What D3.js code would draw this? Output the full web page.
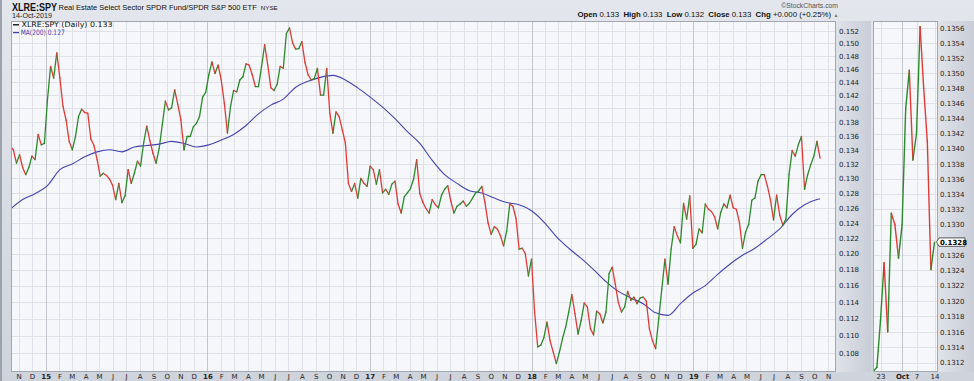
<!DOCTYPE html>
<html><head><meta charset="utf-8">
<script src="https://cdn.jsdelivr.net/npm/d3@7"></script>
<style>body{margin:0;background:#d9dce4;} svg{display:block}</style>
</head><body><svg id="c" width="974" height="381"></svg>
<script>
// ---------- DATA ----------
const mainEndDate = "2019-10-14";           // last weekly sample (daily chart sampled weekly)
const mainCloses = [
0.1345,0.1340,0.1321,0.1333,0.1315,0.1305,0.1315,0.1331,0.1326,0.1362,
0.1347,0.1349,0.1413,0.1464,0.1446,0.1485,0.1446,0.1403,0.1383,0.1352,
0.1340,0.1358,0.1388,0.1399,0.1394,0.1393,0.1355,0.1346,0.1326,0.1303,
0.1307,0.1304,0.1299,0.1290,0.1271,0.1293,0.1267,0.1276,0.1312,0.1293,
0.1307,0.1324,0.1317,0.1350,0.1374,0.1353,0.1335,0.1321,0.1342,0.1376,
0.1411,0.1398,0.1401,0.1428,0.1406,0.1383,0.1340,0.1359,0.1359,0.1373,
0.1378,0.1388,0.1417,0.1424,0.1451,0.1471,0.1453,0.1466,0.1443,0.1408,
0.1364,0.1403,0.1427,0.1425,0.1443,0.1448,0.1468,0.1466,0.1451,0.1433,
0.1433,0.1464,0.1498,0.1466,0.1431,0.1427,0.1436,0.1464,0.1461,0.1516,
0.1525,0.1501,0.1491,0.1492,0.1503,0.1470,0.1451,0.1443,0.1445,0.1461,
0.1420,0.1420,0.1461,0.1393,0.1364,0.1395,0.1388,0.1369,0.1350,0.1293,
0.1282,0.1293,0.1273,0.1300,0.1293,0.1289,0.1317,0.1312,0.1292,0.1312,
0.1280,0.1285,0.1278,0.1292,0.1296,0.1265,0.1253,0.1275,0.1280,0.1286,
0.1299,0.1326,0.1279,0.1267,0.1259,0.1253,0.1271,0.1264,0.1260,0.1277,
0.1285,0.1290,0.1269,0.1253,0.1262,0.1265,0.1269,0.1262,0.1266,0.1273,
0.1280,0.1283,0.1289,0.1267,0.1240,0.1225,0.1235,0.1232,0.1223,0.1210,
0.1229,0.1265,0.1262,0.1246,0.1206,0.1207,0.1200,0.1172,0.1193,0.1128,
0.1087,0.1089,0.1098,0.1116,0.1094,0.1081,0.1068,0.1081,0.1097,0.1110,
0.1128,0.1149,0.1126,0.1102,0.1118,0.1139,0.1134,0.1108,0.1101,0.1129,
0.1126,0.1115,0.1128,0.1175,0.1183,0.1162,0.1139,0.1128,0.1134,0.1153,
0.1142,0.1146,0.1138,0.1145,0.1146,0.1141,0.1108,0.1094,0.1085,0.1120,
0.1156,0.1193,0.1162,0.1206,0.1235,0.1223,0.1214,0.1266,0.1245,0.1276,
0.1207,0.1212,0.1232,0.1227,0.1265,0.1258,0.1255,0.1248,0.1232,0.1254,
0.1265,0.1260,0.1277,0.1260,0.1258,0.1241,0.1207,0.1228,0.1238,0.1270,
0.1273,0.1296,0.1305,0.1305,0.1290,0.1271,0.1244,0.1277,0.1250,0.1237,
0.1245,0.1305,0.1339,0.1331,0.1347,0.1359,0.1285,0.1305,0.1319,0.1331,
0.1352,0.1328
];
// MA(200) read every 4 weeks (plus the final value)
const maValues = [
0.1258,0.1271,0.1279,0.1290,0.1312,0.1320,0.1330,0.1337,0.1340,0.1337,
0.1344,0.1346,0.1348,0.1352,0.1349,0.1344,0.1347,0.1354,0.1362,0.1375,
0.1392,0.1405,0.1414,0.1432,0.1441,0.1447,0.1450,0.1443,0.1431,0.1417,
0.1402,0.1385,0.1366,0.1349,0.1325,0.1305,0.1293,0.1283,0.1280,0.1273,
0.1267,0.1264,0.1256,0.1241,0.1222,0.1207,0.1194,0.1180,0.1165,0.1153,
0.1145,0.1138,0.1127,0.1124,0.1138,0.1151,0.1160,0.1174,0.1187,0.1198,
0.1207,0.1219,0.1232,0.1251,0.1264,0.1271,0.1272
];
const panelDates = ["2019-09-19","2019-09-20","2019-09-23","2019-09-24","2019-09-25","2019-09-26","2019-09-27","2019-09-30",
  "2019-10-01","2019-10-02","2019-10-03","2019-10-04","2019-10-07","2019-10-08","2019-10-09","2019-10-10","2019-10-11","2019-10-14"];
const panelCloses = [0.13109,0.13114,0.13175,0.1325,0.1316,0.13315,0.1330,0.13256,
  0.1330,0.13453,0.13504,0.13385,0.1342,0.13562,0.1348,0.1341,0.13241,0.13277];
const mainTicks = [0.108,0.110,0.112,0.114,0.116,0.118,0.120,0.122,0.124,0.126,0.128,0.130,
  0.132,0.134,0.136,0.138,0.140,0.142,0.144,0.146,0.148,0.150,0.152];
const panelTicks = [0.1312,0.1314,0.1316,0.1318,0.1320,0.1322,0.1324,0.1326,0.1328,0.1330,0.1332,
  0.1334,0.1336,0.1338,0.1340,0.1342,0.1344,0.1346,0.1348,0.1350,0.1352,0.1354,0.1356];
const monthLetters = ["J","F","M","A","M","J","J","A","S","O","N","D"];
const panelTickDates = ["2019-09-23","2019-10-01","2019-10-07","2019-10-14"];
const panelTickLabels = ["23","Oct","7","14"];
const ohlcLabels = ["Open","High","Low","Close","Chg"];
const ohlcValues = ["0.133","0.133","0.132","0.133","+0.000 (+0.25%)"];

// ---------- CHART ----------
const svg = d3.select("#c");
const parse = d3.timeParse("%Y-%m-%d");
const FONT = "'DejaVu Sans', Verdana, sans-serif";
const ARIAL = "'Liberation Sans', Arial, sans-serif";
const UP = "#2b8a2b", DOWN = "#e03a36", MAC = "#4444b0";

const defs = svg.append("defs");
const g1 = defs.append("linearGradient").attr("id","bg").attr("x1",0).attr("y1",0).attr("x2",0).attr("y2",1);
g1.append("stop").attr("offset","0").attr("stop-color","#e3e6ec");
g1.append("stop").attr("offset","1").attr("stop-color","#cfd3dc");
const g2 = defs.append("linearGradient").attr("id","ax").attr("x1",0).attr("y1",0).attr("x2",1).attr("y2",0);
g2.append("stop").attr("offset","0").attr("stop-color","#dfe2e9");
g2.append("stop").attr("offset","1").attr("stop-color","#c9cdd7");

svg.append("rect").attr("width",974).attr("height",381).attr("fill","url(#bg)");
svg.append("rect").attr("x",836).attr("y",21).attr("width",35).attr("height",351).attr("fill","url(#ax)");
svg.append("rect").attr("x",938).attr("y",21).attr("width",36).attr("height",351).attr("fill","url(#ax)");
svg.append("rect").attr("x",0).attr("y",0).attr("width",2).attr("height",381).attr("fill","#9ea2ad");

// main plot
const PL = 11, PR = 836, PT = 21, PB = 372;
const x = d3.scaleTime().domain([new Date(2015,0,1), new Date(2019,0,1)]).range([45.7, 693.3]);
const y = d3.scaleLog().domain([0.108, 0.152]).range([353, 31]);

defs.append("clipPath").attr("id","cm").append("rect").attr("x",PL).attr("y",PT).attr("width",PR-PL).attr("height",PB-PT);
svg.append("rect").attr("x",PL).attr("y",PT).attr("width",PR-PL).attr("height",PB-PT).attr("fill","#f6f7fb");

const grid = svg.append("g").attr("clip-path","url(#cm)");
grid.selectAll("line.h").data(mainTicks).join("line")
  .attr("x1",PL).attr("x2",PR).attr("y1",d=>Math.round(y(d))+0.5).attr("y2",d=>Math.round(y(d))+0.5)
  .attr("stroke","#e0e1e8").attr("stroke-width",1);
const months = d3.timeMonth.range(new Date(2014,10,1), new Date(2019,11,1));
grid.selectAll("line.v").data(months).join("line")
  .attr("x1",d=>Math.round(x(d))+0.5).attr("x2",d=>Math.round(x(d))+0.5).attr("y1",PT).attr("y2",PB)
  .attr("stroke",d=>d.getMonth()===0?"#c4c6ce":"#e0e1e8").attr("stroke-width",1);

// weekly dates ending at mainEndDate
const endD = parse(mainEndDate);
const N = mainCloses.length;
const mainPts = mainCloses.map((v,i)=>[d3.timeDay.offset(endD, -7*(N-1-i)), v]);
const maIdx = maValues.map((v,k)=> k < maValues.length-1 ? 4*k : N-1);
const maPts = maValues.map((v,k)=>[mainPts[maIdx[k]][0], v]);

const lineGen = d3.line().x(d=>x(d[0])).y(d=>y(d[1]));
const plotG = svg.append("g").attr("clip-path","url(#cm)");
plotG.append("path").datum(maPts).attr("d", lineGen.curve(d3.curveMonotoneX))
  .attr("fill","none").attr("stroke",MAC).attr("stroke-width",1.1);
const segLine = d3.line().x(d=>x(d[0])).y(d=>y(d[1]));
plotG.selectAll("path.seg").data(d3.pairs(mainPts)).join("path")
  .attr("d", d=>segLine(d)).attr("fill","none")
  .attr("stroke", d=> d[1][1] >= d[0][1] ? UP : DOWN).attr("stroke-width",1.3).attr("stroke-linecap","round");

svg.append("rect").attr("x",PL+0.5).attr("y",PT+0.5).attr("width",PR-PL-1).attr("height",PB-PT-1)
  .attr("fill","none").attr("stroke","#a3a7b2");

// axes
const xAxis = d3.axisBottom(x).tickValues(months).tickSize(0).tickPadding(2)
  .tickFormat(d => d.getMonth()===0 ? String(d.getFullYear()).slice(2) : monthLetters[d.getMonth()]);
const xa = svg.append("g").attr("transform",`translate(0,${PB})`).call(xAxis);
xa.select(".domain").remove();
xa.selectAll("text").attr("font-family",FONT).attr("font-size",7).attr("fill","#222")
  .attr("font-weight",d=>d.getMonth()===0?"bold":"normal");

const yAxis = d3.axisRight(y).tickValues(mainTicks).tickFormat(d3.format(".3f")).tickSize(0).tickPadding(3);
const ya = svg.append("g").attr("transform",`translate(${PR},0)`).call(yAxis);
ya.select(".domain").remove();
ya.selectAll("text").attr("font-family",FONT).attr("font-size",7).attr("fill","#222");

// legend
svg.append("line").attr("x1",13).attr("x2",19).attr("y1",24.8).attr("y2",24.8).attr("stroke","#000").attr("stroke-width",1.3);
svg.append("text").attr("x",21.5).attr("y",27.4).attr("font-family",FONT).attr("font-size",7.4).attr("fill","#111")
  .attr("textLength",91).attr("lengthAdjust","spacingAndGlyphs")
  .text(`XLRE:SPY (Daily) ${d3.format(".3f")(mainCloses[N-1])}`);
svg.append("line").attr("x1",13).attr("x2",19).attr("y1",32.6).attr("y2",32.6).attr("stroke",MAC).attr("stroke-width",1.3);
svg.append("text").attr("x",20.7).attr("y",35.4).attr("font-family",FONT).attr("font-size",7.4).attr("fill",MAC)
  .attr("textLength",44).attr("lengthAdjust","spacingAndGlyphs")
  .text(`MA(200) ${d3.format(".3f")(maValues[maValues.length-1])}`);

// header
svg.append("text").attr("x",12).attr("y",10.6).attr("font-family",ARIAL).attr("font-size",10).attr("font-weight","bold")
  .attr("fill","#111").attr("textLength",45).attr("lengthAdjust","spacingAndGlyphs").text("XLRE:SPY");
const desc = svg.append("text").attr("x",58.5).attr("y",10.4).attr("font-family",ARIAL).attr("fill","#111");
desc.append("tspan").attr("font-size",7.5).text("Real Estate Select Sector SPDR Fund/SPDR S&P 500 ETF");
desc.append("tspan").attr("dx",4).attr("font-size",6.2).text("NYSE");
svg.append("text").attr("x",12).attr("y",18).attr("font-family",ARIAL).attr("font-size",7.5).attr("fill","#222")
  .attr("textLength",40).attr("lengthAdjust","spacingAndGlyphs").text("14-Oct-2019");
svg.append("text").attr("x",838).attr("y",8.3).attr("text-anchor","end").attr("font-family",ARIAL).attr("font-size",6.8)
  .attr("fill","#555").text("\u00A9StockCharts.com");
const oh = svg.append("text").attr("x",831).attr("y",16.8).attr("text-anchor","end").attr("font-family",ARIAL)
  .attr("font-size",7.8).attr("fill","#111").attr("xml:space","preserve").style("white-space","pre");
ohlcLabels.forEach((l,i)=>{
  oh.append("tspan").attr("font-weight","bold").text((i?"  ":"")+l+" ");
  oh.append("tspan").text(ohlcValues[i]);
});
svg.append("text").attr("x",836).attr("y",16.8).attr("text-anchor","middle").attr("font-family",ARIAL)
  .attr("font-size",5).attr("fill","#777").text("\u25B2");

// ---------- right panel ----------
const QL = 873, QR = 938;
const xp = d3.scalePoint().domain(panelDates).range([873.3, 934.5]);
const yp = d3.scaleLog().domain([0.1312, 0.1356]).range([362.7, 28.3]);
defs.append("clipPath").attr("id","cp").append("rect").attr("x",QL).attr("y",PT).attr("width",QR-QL).attr("height",PB-PT);
svg.append("rect").attr("x",QL).attr("y",PT).attr("width",QR-QL).attr("height",PB-PT).attr("fill","#f6f7fb");
const pg = svg.append("g").attr("clip-path","url(#cp)");
pg.selectAll("line.h").data(panelTicks).join("line")
  .attr("x1",QL).attr("x2",QR).attr("y1",d=>Math.round(yp(d))+0.5).attr("y2",d=>Math.round(yp(d))+0.5)
  .attr("stroke","#e0e1e8");
pg.selectAll("line.v").data(panelTickDates).join("line")
  .attr("x1",d=>Math.round(xp(d))+0.5).attr("x2",d=>Math.round(xp(d))+0.5).attr("y1",PT).attr("y2",PB)
  .attr("stroke",d=>d==="2019-10-01"?"#c4c6ce":"#e0e1e8");
const pPts = panelDates.map((d,i)=>[d, panelCloses[i]]);
const pLine = d3.line().x(d=>xp(d[0])).y(d=>yp(d[1]));
pg.selectAll("path.seg").data(d3.pairs(pPts)).join("path")
  .attr("d",d=>pLine(d)).attr("fill","none")
  .attr("stroke",d=> d[1][1] >= d[0][1] ? UP : DOWN).attr("stroke-width",1.4).attr("stroke-linecap","round");
svg.append("rect").attr("x",QL+0.5).attr("y",PT+0.5).attr("width",QR-QL-1).attr("height",PB-PT-1)
  .attr("fill","none").attr("stroke","#a3a7b2");

const lastV = panelCloses[panelCloses.length-1];
const my = yp(lastV);

const xpa = svg.append("g").attr("transform",`translate(0,${PB})`)
  .call(d3.axisBottom(xp).tickValues(panelTickDates).tickSize(0).tickPadding(2)
    .tickFormat((d,i)=>panelTickLabels[i]));
xpa.select(".domain").remove();
xpa.selectAll("text").attr("font-family",FONT).attr("font-size",7).attr("fill","#222")
  .attr("font-weight",(d,i)=>panelTickLabels[i]==="Oct"?"bold":"normal");
// the tick label hidden behind the last-value marker is left blank, as in the original
const ypa = svg.append("g").attr("transform",`translate(${QR},0)`)
  .call(d3.axisRight(yp).tickValues(panelTicks)
    .tickFormat(d => Math.abs(yp(d)-my) < 7 ? "" : d3.format(".4f")(d)).tickSize(0).tickPadding(2));
ypa.select(".domain").remove();
ypa.selectAll("text").attr("font-family",FONT).attr("font-size",7).attr("fill","#222");

// last value marker
svg.append("path").attr("d",`M936.5,${my} L939,${my-4.2} L965,${my-4.2} L965,${my+4.2} L939,${my+4.2} Z`)
  .attr("fill","#fff").attr("stroke","#333").attr("stroke-width",0.8);
svg.append("text").attr("x",940).attr("y",my).attr("dy","0.35em").attr("font-family",FONT).attr("font-size",7)
  .attr("font-weight","bold").attr("fill","#000").text(d3.format(".4f")(lastV));
</script></body></html>
